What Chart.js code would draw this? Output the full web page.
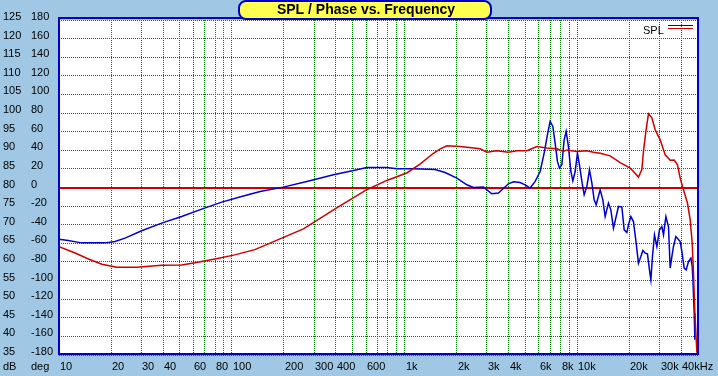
<!DOCTYPE html>
<html>
<head>
<meta charset="utf-8">
<script src="https://cdn.jsdelivr.net/npm/chart.js@4"></script>
<style>
  html, body { margin: 0; padding: 0; background: #A0C8E4; }
  canvas { display: block; }
</style>
</head>
<body>
<canvas id="chart" width="718" height="376"></canvas>
<script>
// SPL (red, dB axis)
const splFreq = [10, 12.4, 14.8, 17.7, 21.6, 28.2, 39.3, 51.3, 61.3, 80,
  104, 136, 260, 405, 605, 790, 1030, 1230, 1470, 1610,
  1760, 2100, 2740, 3000, 3420, 4000, 4470, 5110, 5840, 6670,
  7620, 8320, 8710, 9950, 11370, 12410, 13570, 15500, 17720, 20250,
  21160, 22610, 23660, 24170, 24960, 25840, 27040, 28260, 30200, 32280,
  34510, 36400, 38040, 39430, 41200, 43460, 45060, 46280, 47090, 47970, 49270];
const splDb = [64.1, 62.4, 60.8, 59.4, 58.6, 58.6, 59.1, 59.2, 59.8, 60.8,
  61.9, 63.3, 68.9, 74.5, 79.4, 81.9, 83.9, 86.3, 89.2, 90.4,
  91.2, 91.0, 90.4, 89.5, 89.9, 89.5, 89.9, 89.9, 91.0, 90.6,
  90.4, 89.7, 90.1, 89.7, 89.9, 89.5, 89.2, 88.5, 86.7, 85.2,
  84.3, 82.8, 84.8, 89.7, 95.1, 99.8, 98.7, 95.5, 92.8, 88.8,
  87.3, 87.4, 86.1, 82.5, 79.4, 75.8, 71.3, 65.1, 57.0, 46.3, 35.6];

// Phase (blue, deg axis)
const phaseFreq = [10, 11.3, 13.5, 18.5, 21.1, 24.1, 30.1, 39.3, 51.3, 67,
  87.5, 114, 146, 199, 272, 388, 506, 605, 790, 903,
  1126, 1504, 1718, 2009, 2295, 2506, 2864, 3202, 3498, 3997,
  4272, 4671, 4993, 5337, 5705, 6098, 6433, 6722, 6966, 7224,
  7447, 7679, 7887, 8143, 8398, 8625, 8892, 9182, 9430, 9723,
  10027, 10297, 10675, 10965, 11366, 11769, 12151, 12530, 12869, 13570,
  14066, 14503, 15157, 15650, 16200, 16796, 17320, 18125, 18690, 19373,
  19792, 20436, 21157, 21930, 22611, 23347, 23980, 24724, 25492, 26180,
  26680, 27250, 27990, 28900, 29920, 30900, 31560, 32590, 33740, 34510,
  35300, 36060, 37230, 39430, 40340, 41590, 42720, 44050, 45480, 46280,
  46720, 47530, 47970];
const phaseDeg = [-55.5, -57, -59.5, -59.5, -58, -54.4, -46.5, -38.3, -31.2, -23.2,
  -15.7, -9.7, -4.3, 0.4, 6.5, 13.7, 18.3, 21.5, 21.5, 20.1,
  20.1, 19.4, 16.1, 10.1, 2.9, 0, 0.4, -6.8, -6, 4,
  6.1, 5.4, 2.9, -0.6, 6.5, 17.2, 37, 56.7, 71, 65.6,
  47.7, 28, 20.8, 24.4, 51.3, 60.2, 44, 17.2, 7.2, 17.2,
  37, 24.4, 4.7, -7.8, 1.1, 19, 4.7, -13.2, -18.6, -2.5,
  -13.2, -31.2, -16.8, -24, -43.6, -31.2, -20.4, -21.1, -45.5, -48.4,
  -40.1, -31.2, -36.6, -59.8, -81.3, -74.2, -67.7, -70.5, -71.3, -88.5,
  -99.2, -74.2, -50.8, -63.4, -45.5, -41.9, -50.8, -31.2, -41.9, -86.6,
  -74.2, -63.4, -52.7, -58.1, -68.8, -86.6, -88.5, -79.6, -75.9, -84.9,
  -99.2, -135, -163.7];

const dbTicks = [125, 120, 115, 110, 105, 100, 95, 90, 85, 80, 75, 70, 65, 60, 55, 50, 45, 40, 35];
const degTicks = [180, 160, 140, 120, 100, 80, 60, 40, 20, 0, -20, -40, -60, -80, -100, -120, -140, -160, -180];
const freqTicks = [10, 20, 30, 40, 60, 80, 100, 200, 300, 400, 600, 1000, 2000, 3000, 4000, 6000, 8000, 10000, 20000, 30000, 40000];
const freqTickLabels = ['10', '20', '30', '40', '60', '80', '100', '200', '300', '400', '600', '1k', '2k', '3k', '4k', '6k', '8k', '10k', '20k', '30k', '40kHz'];

// vertical grid: 1..9 per decade
const freqGrid = [];
for (let dec = 10; dec <= 10000; dec *= 10) {
    for (let m = 1; m <= 9; m++) {
        if (dec * m <= 50000) freqGrid.push(dec * m);
    }
}

const GREEN = '#008000';
const FRAME = '#0000CC';
const RED = '#CC0000';
const BLUE = '#0000CC';
const labelFont = '11px "Liberation Sans", Arial, sans-serif';

const decor = {
    id: 'decor',
    beforeDraw(chart) {
        const ctx = chart.ctx;
        const area = chart.chartArea;
        ctx.save();
        ctx.fillStyle = '#FFFFFF';
        ctx.fillRect(area.left, area.top, area.right - area.left, area.bottom - area.top);
        ctx.restore();
    },
    beforeDatasetsDraw(chart) {
        const ctx = chart.ctx;
        const area = chart.chartArea;
        const y0 = Math.round(chart.scales.deg.getPixelForValue(0));
        ctx.save();
        ctx.fillStyle = RED;
        ctx.fillRect(area.left, y0 - 1, area.right - area.left, 2);
        ctx.restore();
    },
    afterDraw(chart) {
        const ctx = chart.ctx;
        const x = chart.scales.x, db = chart.scales.db, deg = chart.scales.deg;
        ctx.save();

        // plot frame
        ctx.fillStyle = FRAME;
        ctx.fillRect(58, 17, 641, 2);
        ctx.fillRect(58, 353, 641, 2);
        ctx.fillRect(58, 17, 2, 338);
        ctx.fillRect(697, 17, 2, 338);

        // axis labels
        ctx.fillStyle = '#000';
        ctx.font = labelFont;
        ctx.textAlign = 'left';
        ctx.textBaseline = 'middle';
        dbTicks.forEach(v => {
            ctx.fillText(String(v), 3, db.getPixelForValue(v) - 3);
        });
        degTicks.forEach(v => {
            ctx.fillText(String(v), 31, deg.getPixelForValue(v) - 3);
        });
        ctx.fillText('dB', 3, 367);
        ctx.fillText('deg', 31, 367);
        freqTicks.forEach((v, i) => {
            ctx.fillText(freqTickLabels[i], Math.round(x.getPixelForValue(v)) + 1, 367);
        });

        // title box
        ctx.beginPath();
        ctx.roundRect(239, 1, 252, 18, 7);
        ctx.fillStyle = '#FFFF50';
        ctx.fill();
        ctx.lineWidth = 2;
        ctx.strokeStyle = FRAME;
        ctx.stroke();
        ctx.fillStyle = '#000';
        ctx.font = 'bold 14px "Liberation Sans", Arial, sans-serif';
        ctx.textAlign = 'center';
        ctx.fillText('SPL / Phase vs. Frequency', 366, 10.5);

        // legend
        ctx.font = labelFont;
        ctx.textAlign = 'left';
        ctx.fillText('SPL', 643, 31);
        ctx.fillStyle = BLUE;
        ctx.fillRect(668, 25, 25, 1);
        ctx.fillStyle = RED;
        ctx.fillRect(668, 28, 25, 1);

        ctx.restore();
    }
};

const noSize = s => { if (s.isHorizontal()) s.height = 0; else s.width = 0; };

new Chart(document.getElementById('chart'), {
    type: 'line',
    data: {
        datasets: [
            {
                label: 'SPL',
                data: splFreq.map((f, i) => ({ x: f, y: splDb[i] })),
                yAxisID: 'db',
                borderColor: RED,
                borderWidth: 1.5,
                pointRadius: 0,
                tension: 0,
                fill: false
            },
            {
                label: 'Phase',
                data: phaseFreq.map((f, i) => ({ x: f, y: phaseDeg[i] })),
                yAxisID: 'deg',
                borderColor: BLUE,
                borderWidth: 1.5,
                pointRadius: 0,
                tension: 0,
                fill: false
            }
        ]
    },
    options: {
        responsive: false,
        animation: false,
        layout: { padding: { left: 59, right: 20, top: 20, bottom: 21 } },
        plugins: { legend: { display: false }, tooltip: { enabled: false } },
        scales: {
            x: {
                type: 'logarithmic',
                min: 10,
                max: 50000,
                afterBuildTicks(s) { s.ticks = freqGrid.map(v => ({ value: v })); },
                afterFit: noSize,
                ticks: { display: false },
                grid: { color: GREEN, lineWidth: 1, drawTicks: false },
                border: { display: false, dash: [1, 1] }
            },
            db: {
                type: 'linear',
                position: 'left',
                min: 35,
                max: 125,
                afterFit: noSize,
                ticks: { display: false, stepSize: 5 },
                grid: { color: GREEN, lineWidth: 1, drawTicks: false },
                border: { display: false, dash: [1, 1] }
            },
            deg: {
                type: 'linear',
                position: 'left',
                min: -180,
                max: 180,
                afterFit: noSize,
                ticks: { display: false, stepSize: 20 },
                grid: { display: false, drawTicks: false },
                border: { display: false }
            }
        }
    },
    plugins: [decor]
});
</script>
</body>
</html>
